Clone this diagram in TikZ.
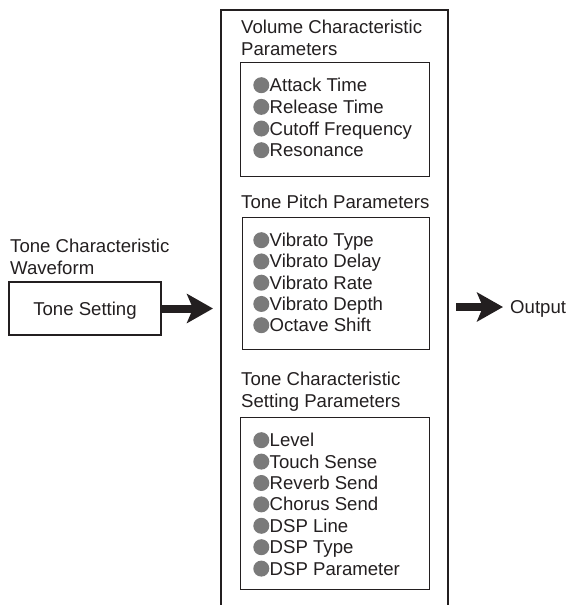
\documentclass[tikz,border=0pt]{standalone}
\usepackage{fontspec}
\setmainfont{Liberation Sans}
\usetikzlibrary{arrows.meta}
\definecolor{ink}{HTML}{231F20}
\definecolor{bulletgray}{HTML}{7A7A7A}
\begin{document}
\begin{tikzpicture}[x=1bp,y=-1bp,
  txt/.style={anchor=base west, inner sep=0, font=\fontsize{18.6bp}{22bp}\selectfont, text=ink},
  bul/.style={circle, fill=bulletgray, minimum size=16bp, inner sep=0},
  frame/.style={draw=ink, line width=1.3bp, anchor=north west, inner sep=0},
  bigframe/.style={draw=ink, line width=2.2bp},
  fat/.style={draw=ink, line width=8bp, -{Stealth[length=26bp,width=29bp,inset=6bp]}}]
\useasboundingbox (0,0) rectangle (567,605);

% main container
\draw[bigframe] (221,607) -- (221,10) -- (448,10) -- (448,607);

% Volume Characteristic Parameters
\node[txt] (t1a) at (241,33.3) {Volume Characteristic};
\node[txt] (t1b) at (241,55.3) {Parameters};
\node[frame, minimum width=189bp, minimum height=114bp] (box1) at (240,62) {};
\foreach \t [count=\i from 0] in {Attack Time, Release Time, Cutoff Frequency, Resonance}{
  \node[bul] (b1\i) at (261.3,91.7+21.67*\i-6.5) {};
  \node[txt] (i1\i) at (269.5,91.7+21.67*\i) {\t};
}

% Tone Pitch Parameters
\node[txt] (t2a) at (241,208.3) {Tone Pitch Parameters};
\node[frame, minimum width=187.3bp, minimum height=132.3bp] (box2) at (241.7,216.7) {};
\foreach \t [count=\i from 0] in {Vibrato Type, Vibrato Delay, Vibrato Rate, Vibrato Depth, Octave Shift}{
  \node[bul] (b2\i) at (261.3,246.7+21.25*\i-6.5) {};
  \node[txt] (i2\i) at (269.5,246.7+21.25*\i) {\t};
}

% Tone Characteristic Setting Parameters
\node[txt] (t3a) at (241,385.3) {Tone Characteristic};
\node[txt] (t3b) at (241,407.3) {Setting Parameters};
\node[frame, minimum width=189bp, minimum height=172bp] (box3) at (240,417) {};
\foreach \t [count=\i from 0] in {Level, Touch Sense, Reverb Send, Chorus Send, DSP Line, DSP Type, DSP Parameter}{
  \node[bul] (b3\i) at (261.3,446.7+21.4*\i-6.5) {};
  \node[txt] (i3\i) at (269.5,446.7+21.4*\i) {\t};
}

% left side
\node[txt] (w1) at (10,252.7) {Tone Characteristic};
\node[txt] (w2) at (10,274.7) {Waveform};
\node[draw=ink, line width=1.3bp, minimum width=152bp, minimum height=53bp,
      text height=13.3bp, text depth=0bp, inner sep=0,
      font=\fontsize{18.6bp}{22bp}\selectfont, text=ink] (ts) at (85,308.5) {Tone Setting};
\coordinate (inTip) at (213,308.5);
\draw[fat] (ts.east) -- (inTip);

% output
\node[txt] (out) at (510,313.3) {Output};
\coordinate (outStart) at (456,307);
\coordinate (outTip) at (503,307);
\draw[fat] (outStart) -- (outTip);
\end{tikzpicture}
\end{document}
